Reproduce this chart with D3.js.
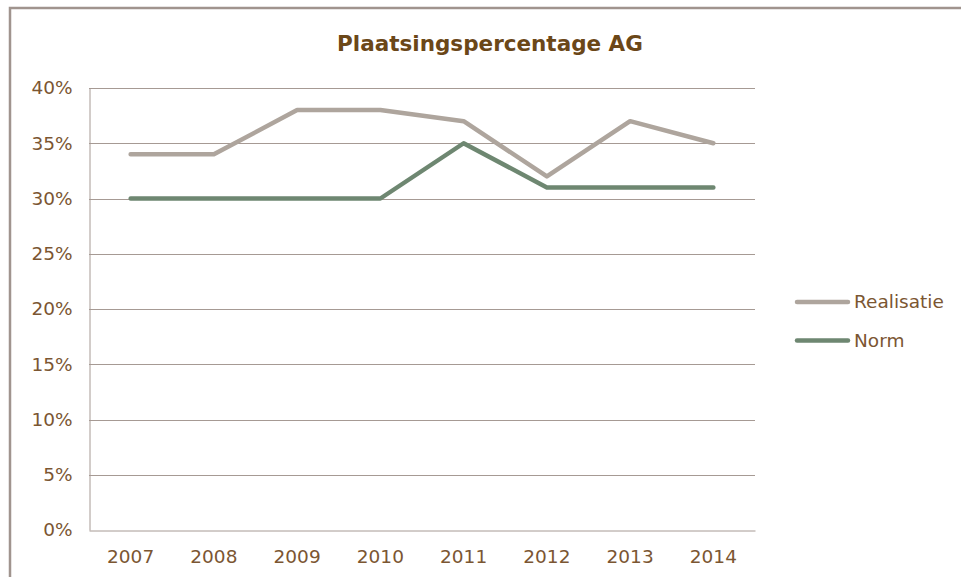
<!DOCTYPE html>
<html>
<head>
<meta charset="utf-8">
<script src="https://cdn.jsdelivr.net/npm/d3@7"></script>
<style>
  body { margin: 0; background: #fff; }
  svg text { font-family: 'DejaVu Sans', Verdana, sans-serif; }
</style>
</head>
<body>
<svg id="chart" width="961" height="577"></svg>
<script>
// chart data
var years = ["2007", "2008", "2009", "2010", "2011", "2012", "2013", "2014"];
var realisatie = [34, 34, 38, 38, 37, 32, 37, 35];
var norm = [30, 30, 30, 30, 35, 31, 31, 31];
var yTicks = [0, 5, 10, 15, 20, 25, 30, 35, 40];
var seriesNames = ["Realisatie", "Norm"];

var textColor = "#7b5632",
    gridColor = "#a69a94",
    colors = ["#aea59d", "#6e8771"];

var svg = d3.select("#chart");

// outer frame (only left and top edges fall inside the picture)
svg.append("path")
  .attr("d", "M10,600 L10,8 L980,8")
  .attr("fill", "none")
  .attr("stroke", "#a0948e")
  .attr("stroke-width", 2.5);

var plotLeft = 89, plotRight = 755, plotTop = 88, plotBottom = 530;

var x = d3.scaleBand().domain(years).range([plotLeft, plotRight]);
var y = d3.scaleLinear().domain([0, 40]).range([plotBottom, plotTop]);

// title
svg.append("text")
  .attr("x", 490)
  .attr("y", 51)
  .attr("text-anchor", "middle")
  .style("font-size", "21.5px")
  .style("font-weight", "bold")
  .style("fill", "#6b4718")
  .text("Plaatsingspercentage AG");

// horizontal gridlines
svg.append("g").selectAll("line")
  .data(yTicks.filter(function(d) { return d > 0; }))
  .enter().append("line")
  .attr("x1", plotLeft).attr("x2", plotRight)
  .attr("y1", function(d) { return Math.round(y(d)) + 0.5; })
  .attr("y2", function(d) { return Math.round(y(d)) + 0.5; })
  .attr("stroke", gridColor)
  .attr("stroke-width", 1);

// y axis
var yAxis = d3.axisLeft(y).tickValues(yTicks).tickSize(0).tickPadding(17)
  .tickFormat(function(d) { return d + "%"; });
var gy = svg.append("g")
  .attr("transform", "translate(" + (plotLeft + 0.5) + ",0)")
  .call(yAxis);
gy.attr("font-family", null).attr("font-size", null);
gy.select(".domain").attr("stroke", gridColor);
gy.selectAll("text")
  .style("font-size", "18.5px")
  .style("fill", textColor);

// x axis
var xAxis = d3.axisBottom(x).tickSize(0).tickPadding(19);
var gx = svg.append("g")
  .attr("transform", "translate(0," + (plotBottom + 0.5) + ")")
  .call(xAxis);
gx.attr("font-family", null).attr("font-size", null);
gx.select(".domain").attr("stroke", gridColor);
gx.selectAll("text")
  .style("font-size", "18.5px")
  .style("fill", textColor);

// lines
var line = d3.line()
  .x(function(d, i) { return x(years[i]) + x.bandwidth() / 2; })
  .y(function(d) { return y(d); });

[realisatie, norm].forEach(function(s, i) {
  svg.append("path")
    .datum(s)
    .attr("d", line)
    .attr("fill", "none")
    .attr("stroke", colors[i])
    .attr("stroke-width", 4.5)
    .attr("stroke-linejoin", "round")
    .attr("stroke-linecap", "round");
});

// legend
var legend = svg.append("g").selectAll("g")
  .data(seriesNames)
  .enter().append("g")
  .attr("transform", function(d, i) { return "translate(797," + (302 + i * 38.5) + ")"; });

legend.append("line")
  .attr("x1", 0).attr("x2", 51)
  .attr("stroke", function(d, i) { return colors[i]; })
  .attr("stroke-width", 4.5)
  .attr("stroke-linecap", "round");

legend.append("text")
  .attr("x", 57)
  .attr("dy", "0.35em")
  .style("font-size", "18.5px")
  .style("fill", textColor)
  .text(function(d) { return d; });
</script>
</body>
</html>
